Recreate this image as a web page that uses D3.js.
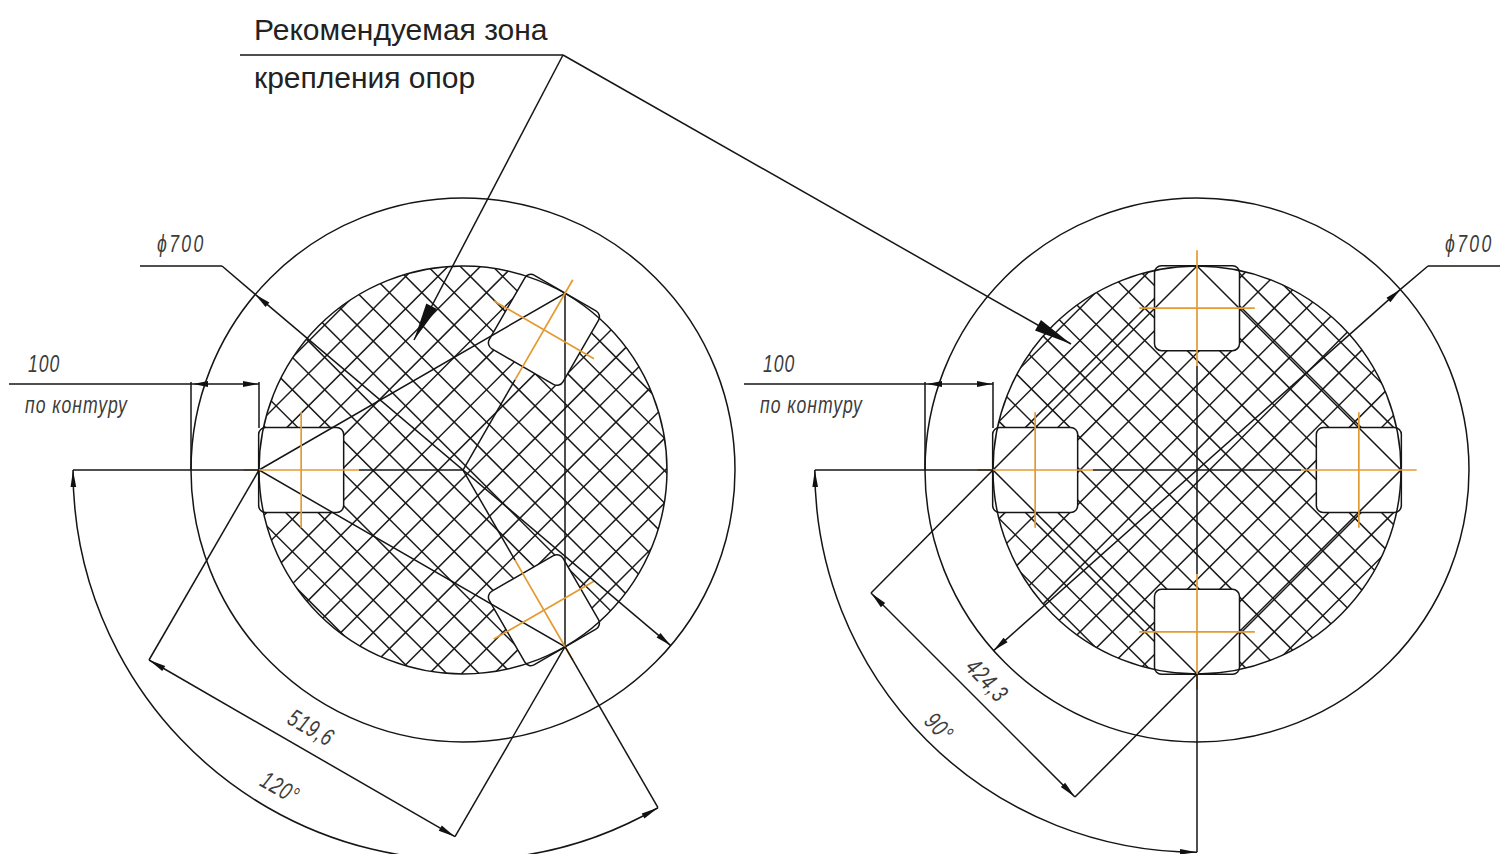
<!DOCTYPE html>
<html>
<head>
<meta charset="utf-8">
<script src="https://cdn.jsdelivr.net/npm/d3@7"></script>
<style>
  html, body { margin: 0; background: #fff; overflow: hidden; }
  .ln { stroke: #151515; stroke-width: 1.5; fill: none; }
  .ax { stroke: #e39a32; stroke-width: 1.7; fill: none; }
  .hatch { stroke: #1a1a1a; stroke-width: 1.5; }
  .dim { font-family: "Liberation Sans", sans-serif; font-style: italic; font-size: 22px; fill: #3c3c3c; letter-spacing: 1.2px; }
  .dia { letter-spacing: 3px; }
  .title { font-family: "Liberation Sans", Arial, sans-serif; font-size: 30px; fill: #222; }
</style>
</head>
<body>
<div id="sheet"></div>
<script>
// Sheet size
var svgWidth = 1501;
var svgHeight = 854;

// Drawing values, in the units of the drawing
var outerRadius = 400;
var innerRadius = 300;
var supportSize = 125;
var supportCentre = 238;
var axisArm = 85;
var hatchStep = 47.6;

var leftAngles = [180, 60, -60];
var rightAngles = [180, 90, 0, -90];
var leftDimAngles = [180, -60];
var rightDimAngles = [180, -90];

// Labels
var titleLines = ["Рекомендуемая зона", "крепления опор"];
var diameterLabel = "ϕ700";
var marginLabels = ["100", "по контуру"];
var chordLabels = ["519,6", "424,3"];
var angleLabels = ["120°", "90°"];

// Units to pixels
var u = d3.scaleLinear().domain([0, 100]).range([0, 68]);

var svg = d3.select("#sheet").append("svg")
    .attr("width", svgWidth)
    .attr("height", svgHeight);

var defs = svg.append("defs");

// Point given by radius and angle (y goes up, like on the drawing)
function polar(view, r, deg) {
    var a = deg * Math.PI / 180;
    return [view.cx + u(r) * Math.cos(a), view.cy - u(r) * Math.sin(a)];
}

function line(p, q, cls) {
    svg.append("line")
        .attr("class", cls || "ln")
        .attr("x1", p[0]).attr("y1", p[1])
        .attr("x2", q[0]).attr("y2", q[1]);
}

// Long thin arrow head with its tip on p, coming from q
function arrow(p, q, len, half) {
    var dx = q[0] - p[0], dy = q[1] - p[1];
    var d = Math.sqrt(dx * dx + dy * dy);
    dx /= d; dy /= d;
    var bx = p[0] + dx * len, by = p[1] + dy * len;
    svg.append("path")
        .attr("fill", "#111")
        .attr("d", d3.line()([p, [bx - dy * half, by + dx * half], [bx + dy * half, by - dx * half]]));
}

// Dimension text is narrow and tall, like the CAD font
function label(txt, x, y, rot, cls) {
    var isDim = !cls || cls.indexOf("dim") === 0;
    var t = "translate(" + x + "," + y + ")";
    if (rot !== undefined) t += " rotate(" + rot + ")";
    if (isDim) t += " scale(0.8,1.12)";
    svg.append("text")
        .attr("class", cls || "dim")
        .attr("text-anchor", rot === undefined ? "start" : "middle")
        .attr("transform", t)
        .text(txt);
}

// One support view: hatching, circles, pads, polygon and dimensions
function drawView(view) {
    var clipId = "clip" + view.cx;
    defs.append("clipPath").attr("id", clipId)
        .append("circle")
        .attr("cx", view.cx).attr("cy", view.cy).attr("r", u(innerRadius));

    var hatchGroup = svg.append("g").attr("clip-path", "url(#" + clipId + ")");
    var R = u(innerRadius) + 10;
    var step = u(hatchStep);
    var n = d3.range(-16, 17);

    // x + y = const
    hatchGroup.selectAll(".a").data(n).enter().append("line")
        .attr("class", "hatch a")
        .attr("x1", d => view.cx - R)
        .attr("x2", d => view.cx + R)
        .attr("y1", d => view.cy + d * step + view.phaseA + R)
        .attr("y2", d => view.cy + d * step + view.phaseA - R);

    // y - x = const
    hatchGroup.selectAll(".b").data(n).enter().append("line")
        .attr("class", "hatch b")
        .attr("x1", d => view.cx - R)
        .attr("x2", d => view.cx + R)
        .attr("y1", d => view.cy + d * step + view.phaseB - R)
        .attr("y2", d => view.cy + d * step + view.phaseB + R);

    // Support pads
    view.angles.forEach(function(deg) {
        var c = polar(view, supportCentre, deg);
        var s = u(supportSize);
        svg.append("rect")
            .attr("class", "ln")
            .style("fill", "#fff")
            .attr("x", -s / 2).attr("y", -s / 2)
            .attr("width", s).attr("height", s)
            .attr("rx", 7)
            .attr("transform", "translate(" + c[0] + "," + c[1] + ") rotate(" + (-deg) + ")");
    });

    [outerRadius, innerRadius].forEach(function(r) {
        svg.append("circle")
            .attr("class", "ln")
            .attr("cx", view.cx).attr("cy", view.cy).attr("r", u(r));
    });

    // Polygon through the support points
    var verts = view.angles.map(d => polar(view, innerRadius, d));
    svg.append("path")
        .attr("class", "ln")
        .attr("d", d3.line().curve(d3.curveLinearClosed)(verts));

    // Centre axes of the pads
    view.angles.forEach(function(deg) {
        var c = polar(view, supportCentre, deg);
        var a = deg * Math.PI / 180;
        var ex = u(axisArm) * Math.cos(a), ey = -u(axisArm) * Math.sin(a);
        line(polar(view, 0, deg), polar(view, supportCentre - axisArm, deg));
        line([c[0] - ex, c[1] - ey], [c[0] + ex, c[1] + ey], "ax");
        line([c[0] + ey, c[1] - ex], [c[0] - ey, c[1] + ex], "ax");
    });

    // Extension lines to the angle arc
    view.dimAngles.forEach(function(deg) {
        line(polar(view, innerRadius, deg), polar(view, view.arcRadius, deg));
    });

    // Angle dimension
    var a0 = -view.dimAngles[1] * Math.PI / 180;
    var a1 = -view.dimAngles[0] * Math.PI / 180 + 2 * Math.PI;
    var arcPath = d3.path();
    arcPath.arc(view.cx, view.cy, u(view.arcRadius), a0, a1);
    svg.append("path").attr("class", "ln").attr("d", arcPath.toString());

    var start = polar(view, view.arcRadius, view.dimAngles[0]);
    var end = polar(view, view.arcRadius, view.dimAngles[1]);
    arrow(start, polar(view, view.arcRadius, view.dimAngles[0] + 2.4), 17, 2.8);
    arrow(end, polar(view, view.arcRadius, view.dimAngles[1] - 2.4), 17, 2.8);

    // Chord dimension
    var p1 = polar(view, innerRadius, view.dimAngles[0]);
    var p2 = polar(view, innerRadius, view.dimAngles[1]);
    var dir = view.chordDir;
    var q1 = [p1[0] + dir[0], p1[1] + dir[1]];
    var q2 = [p2[0] + dir[0], p2[1] + dir[1]];
    line(p1, q1);
    line(p2, q2);
    line(q1, q2);
    arrow(q1, q2, 17, 3);
    arrow(q2, q1, 17, 3);

    // Margin dimension, "100"
    var xOut = view.cx - u(outerRadius);
    var xIn = view.cx - u(innerRadius);
    line([view.shelfX, 384], [xIn, 384]);
    line([xOut, 382], [xOut, view.cy]);
    line([xIn, 382], [xIn, 428]);
    arrow([xOut + 2, 384], [xIn, 384], 15, 3);
    arrow([xIn - 1, 384], [xOut, 384], 15, 3);

    // Diameter leader
    var d1 = polar(view, outerRadius, view.diamAngle);
    var d2 = polar(view, outerRadius, view.diamAngle + 180);
    line(d2, d1);
    line(d1, view.elbow);
    line(view.elbow, view.shelfEnd);
    arrow(d1, d2, 16, 3);
    arrow(d2, d1, 16, 3);
}

var leftView = {
    cx: 463, cy: 470,
    angles: leftAngles, dimAngles: leftDimAngles,
    arcRadius: 573.5,
    chordDir: [-110, 190],
    shelfX: 9,
    diamAngle: 139.8,
    elbow: [222, 266], shelfEnd: [140, 266],
    phaseA: 8, phaseB: -6.7
};

var rightView = {
    cx: 1197, cy: 470,
    angles: rightAngles, dimAngles: rightDimAngles,
    arcRadius: 562,
    chordDir: [-122, 123],
    shelfX: 744,
    diamAngle: 41.6,
    elbow: [1428, 266], shelfEnd: [1500, 266],
    phaseA: 12.5, phaseB: -12.5
};

drawView(leftView);
drawView(rightView);

// Title with its two leaders
var leaderStart = [563, 55];
var leftTip = [414, 340];
var rightTip = [1071, 344];

line([240, 55], leaderStart);
line(leaderStart, leftTip);
line(leaderStart, rightTip);
arrow(leftTip, leaderStart, 38, 6);
arrow(rightTip, leaderStart, 38, 6);

label(titleLines[0], 254, 40, undefined, "title");
label(titleLines[1], 254, 88, undefined, "title");

// Dimension texts
label(diameterLabel, 157, 252, undefined, "dim dia");
label(diameterLabel, 1445, 252, undefined, "dim dia");
label(marginLabels[0], 28, 372);
label(marginLabels[0], 763, 372);
label(marginLabels[1], 25, 413);
label(marginLabels[1], 760, 413);
label(chordLabels[0], 307, 735, 30);
label(chordLabels[1], 981, 686, 47);
label(angleLabels[0], 276, 795, 30);
label(angleLabels[1], 933, 733, 47);
</script>
</body>
</html>
